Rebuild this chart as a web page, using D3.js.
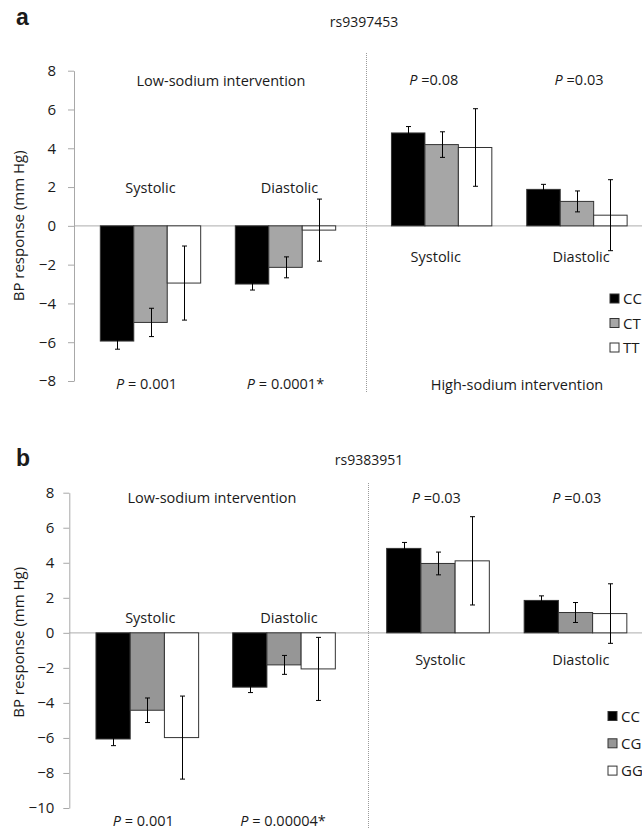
<!DOCTYPE html>
<html>
<head>
<meta charset="utf-8">
<script src="https://cdn.jsdelivr.net/npm/d3@7"></script>
<style>
  body { margin: 0; background: #fff; }
  svg { display: block; font-family: "Open Sans", sans-serif; }
  text { fill: #1a1a1a; }
</style>
</head>
<body>
<svg id="chart" width="642" height="829"></svg>
<script>
// measures & genotypes
const measures = ['Systolic', 'Diastolic'];
const genotypesA = ['CC', 'CT', 'TT'];
const genotypesB = ['CC', 'CG', 'GG'];

// panel a (rs9397453), mean BP response and error, rows = measures, cols = genotypes
const lowMeanA = [[-5.94, -4.98, -2.95], [-3.0, -2.14, -0.22]];
const lowErrA = [[0.42, 0.73, 1.91], [0.31, 0.54, 1.6]];
const highMeanA = [[4.79, 4.19, 4.04], [1.88, 1.26, 0.55]];
const highErrA = [[0.33, 0.66, 2.0], [0.26, 0.54, 1.83]];
const lowPA = ['0.001', '0.0001*'];
const highPA = ['0.08', '0.03'];

// panel b (rs9383951)
const lowMeanB = [[-6.06, -4.42, -5.98], [-3.1, -1.83, -2.06]];
const lowErrB = [[0.38, 0.7, 2.37], [0.31, 0.54, 1.8]];
const highMeanB = [[4.82, 3.96, 4.11], [1.85, 1.16, 1.1]];
const highErrB = [[0.34, 0.65, 2.52], [0.26, 0.57, 1.7]];
const lowPB = ['0.001', '0.00004*'];
const highPB = ['0.03', '0.03'];

const ticksA = [-8, -6, -4, -2, 0, 2, 4, 6, 8];
const ticksB = [-10, -8, -6, -4, -2, 0, 2, 4, 6, 8];

const svg = d3.select('#chart');
const fs = '14.5px';

function drawPanel(p) {
    let g = svg.append('g');

    let y = d3.scaleLinear().domain(p.domain).range(p.yRange);

    let xLow = d3.scaleBand().domain(measures).range(p.lowRange)
        .paddingInner(p.pad).paddingOuter(p.pad / 2);
    let xHigh = d3.scaleBand().domain(measures).range(p.highRange)
        .paddingInner(p.pad).paddingOuter(p.pad / 2);
    let xInner = d3.scaleBand().domain(p.genotypes).range([0, xLow.bandwidth()]);
    let fill = d3.scaleOrdinal().domain(p.genotypes).range(['#000000', p.grey, '#ffffff']);

    // letter + snp title
    g.append('text')
        .attr('x', 16).attr('y', p.letterY)
        .style('font-family', 'Liberation Sans, Arial, sans-serif')
        .style('font-weight', 'bold').style('font-size', '23px')
        .text(p.letter);
    g.append('text')
        .attr('x', p.titleX).attr('y', p.titleY)
        .attr('text-anchor', 'middle').style('font-size', '14px')
        .text(p.title);

    // zero line
    g.append('line')
        .attr('x1', p.axisX).attr('x2', 642)
        .attr('y1', y(0)).attr('y2', y(0))
        .style('stroke', '#bdbdbd').style('stroke-width', 1.3);

    // y axis
    let axis = g.append('g')
        .attr('transform', `translate(${p.axisX},0)`)
        .call(d3.axisLeft(y).tickValues(p.ticks).tickSize(6).tickSizeOuter(0).tickPadding(p.tickPad));
    axis.selectAll('path, line').style('stroke', '#a8a8a8');
    axis.selectAll('text').style('font-size', '15px').style('font-family', '"Open Sans", sans-serif').style('fill', '#1a1a1a');

    g.append('text')
        .attr('transform', `translate(${p.labelX},${(p.yRange[0] + p.yRange[1]) / 2 + p.labelDy}) rotate(-90)`)
        .attr('text-anchor', 'middle').style('font-size', '15px')
        .text('BP response (mm Hg)');

    // divider
    g.append('line')
        .attr('x1', p.divX).attr('x2', p.divX)
        .attr('y1', p.divY[0]).attr('y2', p.divY[1])
        .style('stroke', '#9a9a9a').style('stroke-dasharray', '1,1');

    let halves = [
        {x: xLow, mean: p.lowMean, err: p.lowErr},
        {x: xHigh, mean: p.highMean, err: p.highErr}
    ];
    halves.forEach((h) => {
        measures.forEach((m, i) => {
            p.genotypes.forEach((gt, j) => {
                let v = h.mean[i][j];
                let e = h.err[i][j];
                let bx = h.x(m) + xInner(gt);
                let cx = Math.round(bx + xInner.bandwidth() / 2) + 0.5;
                g.append('rect')
                    .attr('x', bx)
                    .attr('y', Math.min(y(v), y(0)))
                    .attr('width', xInner.bandwidth())
                    .attr('height', Math.abs(y(v) - y(0)))
                    .style('fill', fill(gt))
                    .style('stroke', '#333')
                    .style('stroke-width', 1);
                // error bar
                g.append('line')
                    .attr('x1', cx).attr('x2', cx)
                    .attr('y1', y(v + e)).attr('y2', y(v - e))
                    .style('stroke', '#000').style('stroke-width', 1);
                [v + e, v - e].forEach((ev) => {
                    g.append('line')
                        .attr('x1', cx - 2.5).attr('x2', cx + 2.5)
                        .attr('y1', y(ev)).attr('y2', y(ev))
                        .style('stroke', '#000').style('stroke-width', 1);
                });
            });
        });
    });

    // measure labels
    measures.forEach((m, i) => {
        g.append('text')
            .attr('x', xLow(m) + xLow.bandwidth() / 2 + p.lowLabelDx[i])
            .attr('y', p.lowLabelY)
            .attr('text-anchor', 'middle').style('font-size', fs)
            .text(m);
        g.append('text')
            .attr('x', xHigh(m) + xHigh.bandwidth() / 2 + p.highLabelDx[i])
            .attr('y', p.highLabelY)
            .attr('text-anchor', 'middle').style('font-size', fs)
            .text(m);

        let t1 = g.append('text')
            .attr('x', xLow(m) + xLow.bandwidth() / 2 + p.lowPDx[i])
            .attr('y', p.lowPY)
            .attr('text-anchor', 'middle').style('font-size', fs);
        t1.append('tspan').style('font-style', 'italic').text('P');
        t1.append('tspan').text(' = ' + p.lowP[i]);

        let t2 = g.append('text')
            .attr('x', xHigh(m) + xHigh.bandwidth() / 2 + p.highPDx[i])
            .attr('y', p.highPY)
            .attr('text-anchor', 'middle').style('font-size', fs);
        t2.append('tspan').style('font-style', 'italic').text('P');
        t2.append('tspan').text(' =' + p.highP[i]);
    });

    g.append('text')
        .attr('x', p.lowTitleX).attr('y', p.lowTitleY)
        .attr('text-anchor', 'middle').style('font-size', fs)
        .text('Low-sodium intervention');
    if (p.highTitleY) {
        g.append('text')
            .attr('x', p.highTitleX).attr('y', p.highTitleY)
            .attr('text-anchor', 'middle').style('font-size', fs)
            .text('High-sodium intervention');
    }

    // legend
    p.genotypes.forEach((gt, j) => {
        let ly = p.legendY + j * p.legendStep;
        g.append('rect')
            .attr('x', p.legendX).attr('y', ly - 4.5)
            .attr('width', 9).attr('height', 9)
            .style('fill', fill(gt)).style('stroke', '#333').style('stroke-width', 1);
        g.append('text')
            .attr('x', p.legendX + 13).attr('y', ly + 5.5)
            .style('font-size', '15px')
            .text(gt);
    });
}

drawPanel({
    letter: 'a', letterY: 25, title: 'rs9397453', titleX: 364, titleY: 27,
    genotypes: genotypesA, grey: '#a6a6a6',
    domain: [-8, 8], yRange: [381, 70.7], ticks: ticksA,
    axisX: 74, tickPad: 12, labelX: 24, labelDy: 0,
    lowRange: [83, 353], highRange: [374.1, 644.7], pad: 0.2565,
    lowMean: lowMeanA, lowErr: lowErrA, highMean: highMeanA, highErr: highErrA,
    lowP: lowPA, highP: highPA,
    divX: 366.5, divY: [53, 392],
    lowLabelY: 193, lowLabelDx: [0, 4], highLabelY: 262, highLabelDx: [-6, 4],
    lowPY: 389, lowPDx: [-4, 0], highPY: 85, highPDx: [-8, 2],
    lowTitleX: 221, lowTitleY: 86, highTitleX: 517, highTitleY: 390,
    legendX: 610, legendY: 298.5, legendStep: 24.5
});

drawPanel({
    letter: 'b', letterY: 466, title: 'rs9383951', titleX: 369, titleY: 465,
    genotypes: genotypesB, grey: '#969696',
    domain: [-10, 8], yRange: [808, 492.7], ticks: ticksB,
    axisX: 69.3, tickPad: 9, labelX: 24, labelDy: -8,
    lowRange: [78.95, 352.35], highRange: [369.55, 644.55], pad: 0.249,
    lowMean: lowMeanB, lowErr: lowErrB, highMean: highMeanB, highErr: highErrB,
    lowP: lowPB, highP: highPB,
    divX: 368.5, divY: [483, 829],
    lowLabelY: 623, lowLabelDx: [3, 5], highLabelY: 665, highLabelDx: [2, 5],
    lowPY: 826, lowPDx: [-4, -1], highPY: 503, highPDx: [-2, 1],
    lowTitleX: 212, lowTitleY: 503, highTitleX: 0, highTitleY: 0,
    legendX: 608, legendY: 716, legendStep: 27.3
});
</script>
</body>
</html>
